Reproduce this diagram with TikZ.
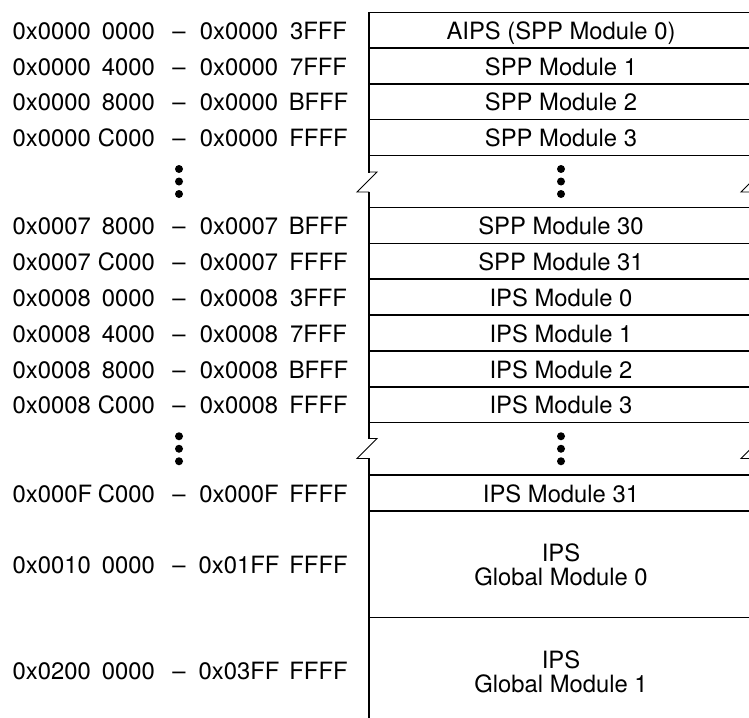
\documentclass[tikz,border=0pt]{standalone}
\usepackage{fontspec}
\setmainfont{TeX Gyre Heros}
\newcommand\memrow[7]{%
  \node[lbl, anchor=base west] (a#1) at (12.5,#2+9) {#3};
  \node[lbl, anchor=base east] (b#1) at (155,#2+9) {#4};
  \node[lbl] (d#1) at (179,#2+9) {\textendash};
  \node[lbl] (c#1) at (239,#2+9) {#5};
  \node[lbl] (e#1) at (318.5,#2+9) {#6};
  \node[lbl] (m#1) at (561,#2+9) {#7};
}
\newcommand\memdots[3]{%
  \node[dotm] (#1a) at (#2,#3-12.5) {};
  \node[dotm] (#1b) at (#2,#3) {};
  \node[dotm] (#1c) at (#2,#3+12.5) {};
}
\begin{document}
\begin{tikzpicture}[x=1pt,y=-1pt,
  lbl/.style={font=\fontsize{23.8}{23.8}\selectfont, inner sep=0pt, anchor=base},
  two/.style={font=\fontsize{23.8}{23.8}\selectfont, inner sep=0pt, align=center, anchor=center},
  box/.style={line width=1.6pt},
  brk/.style={line width=0.9pt, line join=miter},
  dotm/.style={fill=black, circle, inner sep=0pt, minimum size=8pt}]
\useasboundingbox (0,0) rectangle (749,717);
\clip (0,0) rectangle (749,717);

% frame
\draw[box] (753,12.5) -- (369,12.5) -- (369,172.5);
\draw[brk] (369,172) -- (377,172) -- (357,192) -- (369,192);
\draw[box] (369,191.5) -- (369,438.5);
\draw[brk] (369,438.5) -- (377,438.5) -- (357,458.5) -- (369,458.5);
\draw[box] (369,458) -- (369,725);
\draw[box] (753,12.5) -- (753,172.5);
\draw[brk] (753,172) -- (761,172) -- (741,192) -- (753,192);
\draw[box] (753,191.5) -- (753,438.5);
\draw[brk] (753,438.5) -- (761,438.5) -- (741,458.5) -- (753,458.5);
\draw[box] (753,458) -- (753,725);
\foreach \yy in {48,84,119.5,155.5,207.5,243.5,279,315,351,387,422.5,475,511,617.5}
  \draw[box] (369,\yy) -- (753,\yy);

\memrow{1}{30.25}{0x0000}{0000}{0x0000}{3FFF}{AIPS (SPP Module 0)}
\memrow{2}{66}{0x0000}{4000}{0x0000}{7FFF}{SPP Module 1}
\memrow{3}{101.75}{0x0000}{8000}{0x0000}{BFFF}{SPP Module 2}
\memrow{4}{137.5}{0x0000}{C000}{0x0000}{FFFF}{SPP Module 3}
\memdots{p}{179}{181.5}
\memdots{q}{561}{181.5}
\memrow{5}{225.5}{0x0007}{8000}{0x0007}{BFFF}{SPP Module 30}
\memrow{6}{261.25}{0x0007}{C000}{0x0007}{FFFF}{SPP Module 31}
\memrow{7}{297}{0x0008}{0000}{0x0008}{3FFF}{IPS Module 0}
\memrow{8}{333}{0x0008}{4000}{0x0008}{7FFF}{IPS Module 1}
\memrow{9}{369}{0x0008}{8000}{0x0008}{BFFF}{IPS Module 2}
\memrow{10}{404.75}{0x0008}{C000}{0x0008}{FFFF}{IPS Module 3}
\memdots{r}{179}{448.75}
\memdots{s}{561}{448.75}
\memrow{11}{493}{0x000F}{C000}{0x000F}{FFFF}{IPS Module 31}
\memrow{12}{564.25}{0x0010}{0000}{0x01FF}{FFFF}{}
\memrow{13}{670.75}{0x0200}{0000}{0x03FF}{FFFF}{}
\node[two] (g0) at (561,565) {IPS\\Global Module 0};
\node[two] (g1) at (561,671.5) {IPS\\Global Module 1};
\end{tikzpicture}
\end{document}
